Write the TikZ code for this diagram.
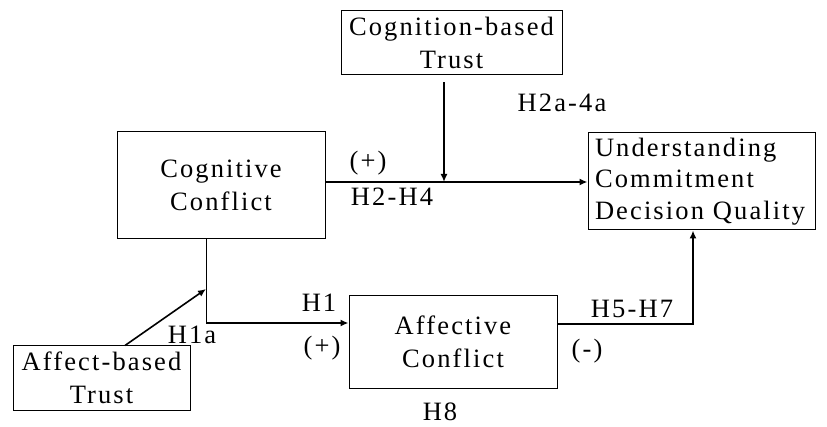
\documentclass[tikz,border=0pt]{standalone}
\usepackage{fontspec}
\setmainfont{Liberation Serif}[LetterSpace=8]
\usetikzlibrary{arrows.meta}
\begin{document}
\begin{tikzpicture}[x=1pt,y=-1pt,font=\fontsize{26.5}{33}\selectfont,
  box/.style={draw,line width=1pt,inner sep=0pt,align=center},
  arr/.style={line width=1.6pt,-{Latex[length=8pt,width=7pt]}},
  lab/.style={inner sep=0pt}]
\useasboundingbox (0,0) rectangle (827,427);
\node[box,minimum width=221,minimum height=64] (cbt) at (451.5,43) {Cognition-based\\Trust};
\node[box,minimum width=208,minimum height=107] (cc) at (221,185.5) {Cognitive\\Conflict};
\node[box,minimum width=227,minimum height=97,align=left,text width=213,font=\fontsize{26.5}{31.5}\selectfont] (uq) at (701.5,181.5) {Understanding\\Commitment\\Decision Quality};
\node[box,minimum width=208,minimum height=92] (ac) at (453,342) {Affective\\Conflict};
\node[box,minimum width=177,minimum height=64] (abt) at (101.5,378) {Affect-based\\Trust};
\coordinate (j) at (444,182);
\coordinate (k) at (206,323);
\coordinate (m) at (206,289);
\coordinate (n) at (693,324);
\draw[arr] (cc.east|-j)--(uq.west|-j);
\draw[arr] ([yshift=-7pt]cbt.south-|j)--(j);
\draw[line width=1pt] (cc.south-|k)--(k);
\draw[arr] (k)--(ac.west|-k);
\draw[arr] ([xshift=23.5pt]abt.north)--(m);
\draw[arr] (ac.east|-n)--(n)--(n|-uq.south);
\node[lab] (h2a) at (562,103) {H2a-4a};
\node[lab] (p1) at (368,163) {(+)};
\node[lab] (h2) at (392,197) {H2-H4};
\node[lab] (h1a) at (192,335) {H1a};
\node[lab] (h1) at (319,303) {H1};
\node[lab] (p2) at (322,348) {(+)};
\node[lab] (h5) at (632,309) {H5-H7};
\node[lab] (m1) at (587,351) {(-)};
\node[lab] (h8) at (440,412) {H8};
\end{tikzpicture}
\end{document}
